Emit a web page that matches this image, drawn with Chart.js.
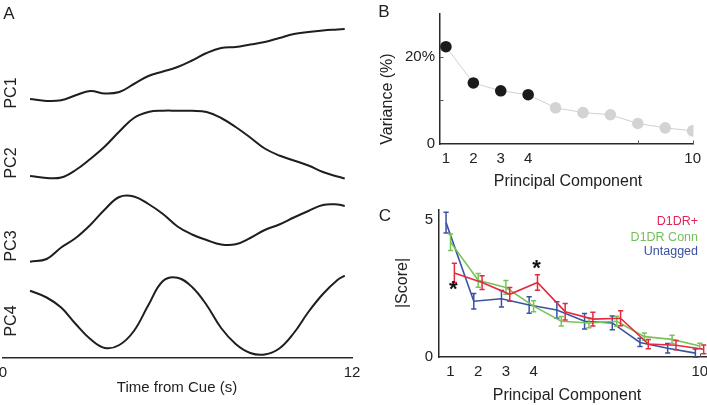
<!DOCTYPE html>
<html><head><meta charset="utf-8">
<script src="https://cdn.jsdelivr.net/npm/chart.js@4"></script>
<style>
html,body{margin:0;padding:0;width:707px;height:405px;overflow:hidden;background:#fff;font-family:"Liberation Sans",Arial,sans-serif;}
body{position:relative;}
canvas{position:absolute;}
.t{position:absolute;white-space:nowrap;color:#222;line-height:1;transform:translate(-50%,-50%);}
.r{transform:translate(-50%,-50%) rotate(-90deg);}
.lg{position:absolute;white-space:nowrap;line-height:1;font-size:12.5px;right:9px;transform:translateY(-50%);text-align:right;}
</style></head><body>
<canvas id="cA" width="390" height="405" style="left:-20px;top:0"></canvas>
<canvas id="cB" width="327" height="200" style="left:380px;top:0"></canvas>
<canvas id="cC" width="360" height="210" style="left:380px;top:195px"></canvas>

<div class="t" style="left:9px;top:12.5px;font-size:17px">A</div>
<div class="t" style="left:384px;top:11px;font-size:17px">B</div>
<div class="t" style="left:385px;top:215px;font-size:17px">C</div>
<div class="t r" style="left:11px;top:93px;font-size:16px">PC1</div>
<div class="t r" style="left:11px;top:163px;font-size:16px">PC2</div>
<div class="t r" style="left:11px;top:246px;font-size:16px">PC3</div>
<div class="t r" style="left:11px;top:321px;font-size:16px">PC4</div>
<div class="t" style="left:177px;top:386px;font-size:15px">Time from Cue (s)</div>
<div class="t r" style="left:387px;top:99px;font-size:16px">Variance (%)</div>
<div class="t" style="left:568px;top:181px;font-size:16px">Principal Component</div>
<div class="t r" style="left:402px;top:283px;font-size:16px">|Score|</div>
<div class="t" style="left:567px;top:395px;font-size:16px">Principal Component</div>
<div class="lg" style="top:221px;color:#e2285a">D1DR+</div>
<div class="lg" style="top:237px;color:#74c05a">D1DR Conn</div>
<div class="lg" style="top:251px;color:#3a4f9f">Untagged</div>

<script>
// ---------- Panel A data: PC time courses (arbitrary units) ----------
const timeSec = [0.93,1.5,2,2.5,3,3.5,4,4.5,5,5.5,6,6.5,7,7.5,8,8.5,9,9.5,10,10.5,11,11.5,11.75];
const pc1 = [0.30,0.10,0.17,0.67,1.10,0.85,1.00,1.80,2.60,3.05,3.50,4.15,4.90,5.40,5.50,5.75,6.00,6.40,6.80,7.00,7.15,7.25,7.30];
const pc2 = [0.30,0.10,0.15,0.90,2.00,3.25,4.75,6.10,6.70,6.83,6.83,6.82,6.70,6.10,5.20,4.15,3.05,2.35,1.85,1.35,0.70,0.25,0.05];
const pc3 = [0.03,0.30,1.45,2.40,3.70,5.25,6.50,6.55,5.80,4.80,3.55,2.75,2.20,1.75,1.77,2.40,3.20,3.75,4.45,5.10,5.70,5.75,5.60];
const pc4 = [6.43,5.75,4.75,3.10,1.60,0.70,1.00,2.40,5.00,7.40,7.73,6.80,5.00,2.70,1.10,0.20,0.05,0.65,2.20,4.30,6.10,7.50,7.93];
const timeTicks = [0,12];

// ---------- Panel B data: variance explained ----------
const components = [1,2,3,4,5,6,7,8,9,10];
const variancePct = [22.3,14.0,12.2,11.3,8.3,7.2,6.7,4.7,3.7,3.0];
const pcTickLabels = [1,2,3,4,10];
const varianceTicks = [0,10,20];
const varianceInnerTicksY = [10,20];
const varianceInnerTicksX = [8,10];

// ---------- Panel C data: |Score| mean and SEM ----------
const d1drMean = [3.06,2.71,2.28,2.71,1.65,1.38,1.41,0.47,0.43,0.28];
const d1drErr  = [0.35,0.25,0.25,0.28,0.30,0.25,0.27,0.17,0.17,0.16];
const connMean = [4.18,2.79,2.53,1.85,1.30,1.24,1.30,0.74,0.64,0.40];
const connErr  = [0.30,0.25,0.25,0.20,0.17,0.18,0.18,0.13,0.15,0.10];
const untagMean = [4.89,2.03,2.12,1.89,1.71,1.30,1.24,0.53,0.32,0.14];
const untagErr  = [0.38,0.28,0.30,0.30,0.30,0.28,0.25,0.15,0.17,0.15];
const scoreTicks = [0,5];
const scoreInnerTicksX = [10];
const sigIndex = [0,3];          // components with significant difference (asterisks)
const sigSide  = ['below','above'];

Chart.defaults.font.family = "'Liberation Sans', Arial, sans-serif";
Chart.defaults.color = '#222';
const AX = '#2a2a2a';
const base = {responsive:false, animation:false, devicePixelRatio:1, events:[],
  plugins:{legend:{display:false}, tooltip:{enabled:false}}};

// inward tick marks drawn through the chart's scales
function innerTicks(xVals, yVals){
  return {
    id:'innerTicks',
    afterDraw(chart){
      const ctx = chart.ctx, xs = chart.scales.x, ys = chart.scales.y, a = chart.chartArea;
      ctx.save(); ctx.strokeStyle = '#555'; ctx.lineWidth = 1;
      ctx.beginPath();
      xVals.forEach(v=>{ const x = Math.round(xs.getPixelForValue(v))+0.5; ctx.moveTo(x,a.bottom); ctx.lineTo(x,a.bottom-3.5); });
      yVals.forEach(v=>{ const y = Math.round(ys.getPixelForValue(v))+0.5; ctx.moveTo(a.left,y); ctx.lineTo(a.left+3.5,y); });
      ctx.stroke(); ctx.restore();
    }
  };
}

// ---------------- Panel A ----------------
const A_TOP = 20, A_BOT = 358, A_H = A_BOT - A_TOP, PXU = 10;
const bandBase = [102,179,262,355];
const pcs = [pc1,pc2,pc3,pc4];
const scalesA = {
  x:{type:'linear', min:0, max:12,
     afterBuildTicks:s=>{s.ticks = timeTicks.map(v=>({value:v}));},
     afterFit:s=>{s.height = 405 - A_BOT;},
     grid:{display:false, drawTicks:false},
     border:{display:true, color:AX, width:1.5},
     ticks:{font:{size:15}, padding:6, maxRotation:0, color:'#222'}}
};
pcs.forEach((p,k)=>{
  const mn = -(A_BOT - bandBase[k]) / PXU;
  scalesA['y'+k] = {type:'linear', display:false, min:mn, max:mn + A_H/PXU};
});
new Chart(document.getElementById('cA'), {
  type:'line',
  data:{datasets: pcs.map((p,k)=>({
    data: timeSec.map((t,i)=>({x:t, y:p[i]})),
    yAxisID:'y'+k, borderColor:'#1e1e1e', borderWidth:2, pointRadius:0,
    tension:0.4, fill:false
  }))},
  options:{...base, layout:{padding:{left:23, right:18, top:A_TOP, bottom:0}}, scales:scalesA}
});

// ---------------- Panel B ----------------
new Chart(document.getElementById('cB'), {
  type:'line',
  data:{datasets:[{
    data: components.map((c,i)=>({x:c, y:variancePct[i]})),
    borderColor:'#d0d0d0', borderWidth:1, tension:0,
    pointRadius:5.8, pointBorderWidth:0,
    pointBackgroundColor: ctx => ctx.dataIndex < 4 ? '#1b1b1b' : '#d3d3d3'
  }]},
  options:{...base, layout:{padding:{left:0, right:10, top:4, bottom:0}},
    scales:{
      x:{type:'linear', min:0.784, max:10.03,
        afterBuildTicks:s=>{s.ticks = pcTickLabels.map(v=>({value:v}));},
        afterFit:s=>{s.height = 56;},
        grid:{display:false, drawTicks:false},
        border:{display:true, color:AX, width:1.5},
        ticks:{font:{size:15}, padding:6, maxRotation:0}},
      y:{type:'linear', min:0, max:29.8,
        afterBuildTicks:s=>{s.ticks = varianceTicks.map(v=>({value:v}));},
        afterFit:s=>{s.width = 60;},
        grid:{display:false, drawTicks:false},
        border:{display:true, color:AX, width:1.5},
        ticks:{font:{size:15}, padding:5, callback:v=> v===20 ? '20%' : (v===0 ? '0' : '')}}
    }},
  plugins:[innerTicks(varianceInnerTicksX, varianceInnerTicksY)]
});

// ---------------- Panel C ----------------
const errPlugin = {
  id:'errbars',
  afterDatasetDraw(chart, args){
    const ds = chart.data.datasets[args.index];
    if (!ds.sem) return;
    const ctx = chart.ctx, xs = chart.scales.x, ys = chart.scales.y;
    ctx.save();
    ctx.strokeStyle = ds.borderColor; ctx.lineWidth = 1.5;
    ds.data.forEach((p,i)=>{
      const x = xs.getPixelForValue(p.x);
      const y1 = ys.getPixelForValue(p.y + ds.sem[i]);
      const y2 = ys.getPixelForValue(p.y - ds.sem[i]);
      ctx.beginPath();
      ctx.moveTo(x,y1); ctx.lineTo(x,y2);
      ctx.moveTo(x-2.6,y1); ctx.lineTo(x+2.6,y1);
      ctx.moveTo(x-2.6,y2); ctx.lineTo(x+2.6,y2);
      ctx.stroke();
    });
    ctx.restore();
  },
  afterDatasetsDraw(chart){
    const ds = chart.data.datasets[0]; // D1DR+
    const ctx = chart.ctx, xs = chart.scales.x, ys = chart.scales.y;
    ctx.save();
    ctx.fillStyle = '#111'; ctx.font = "bold 22px 'Liberation Sans', Arial, sans-serif";
    ctx.textAlign = 'center'; ctx.textBaseline = 'alphabetic';
    sigIndex.forEach((idx,j)=>{
      const p = ds.data[idx];
      const x = xs.getPixelForValue(p.x) - 1;
      let cy;
      if (sigSide[j]==='below') cy = ys.getPixelForValue(p.y - ds.sem[idx]) + 7;
      else cy = ys.getPixelForValue(p.y + ds.sem[idx]) - 6;
      ctx.fillText('*', x, cy + 6);
    });
    ctx.restore();
  }
};
const series = [
  {mean:d1drMean, err:d1drErr, color:'#e42a3c', dx:0.14},
  {mean:connMean, err:connErr, color:'#78c35a', dx:0},
  {mean:untagMean, err:untagErr, color:'#3a52a2', dx:-0.16}
];
new Chart(document.getElementById('cC'), {
  type:'line',
  data:{datasets: series.map(s=>({
    data: components.map((c,i)=>({x:c + s.dx, y:s.mean[i]})),
    sem: s.err, borderColor:s.color, borderWidth:1.6, pointRadius:0, tension:0, fill:false
  }))},
  options:{...base, layout:{padding:{left:0, right:10, top:10, bottom:0}},
    scales:{
      x:{type:'linear', min:0.585, max:11.09,
        afterBuildTicks:s=>{s.ticks = pcTickLabels.map(v=>({value:v}));},
        afterFit:s=>{s.height = 48;},
        grid:{display:false, drawTicks:false},
        border:{display:true, color:AX, width:1.5},
        ticks:{font:{size:15}, padding:6, maxRotation:0}},
      y:{type:'linear', min:0, max:5.35,
        afterBuildTicks:s=>{s.ticks = scoreTicks.map(v=>({value:v}));},
        afterFit:s=>{s.width = 59;},
        grid:{display:false, drawTicks:false},
        border:{display:true, color:AX, width:1.5},
        ticks:{font:{size:15}, padding:6}}
    }},
  plugins:[errPlugin, innerTicks(scoreInnerTicksX, [])]
});
</script>
</body></html>
